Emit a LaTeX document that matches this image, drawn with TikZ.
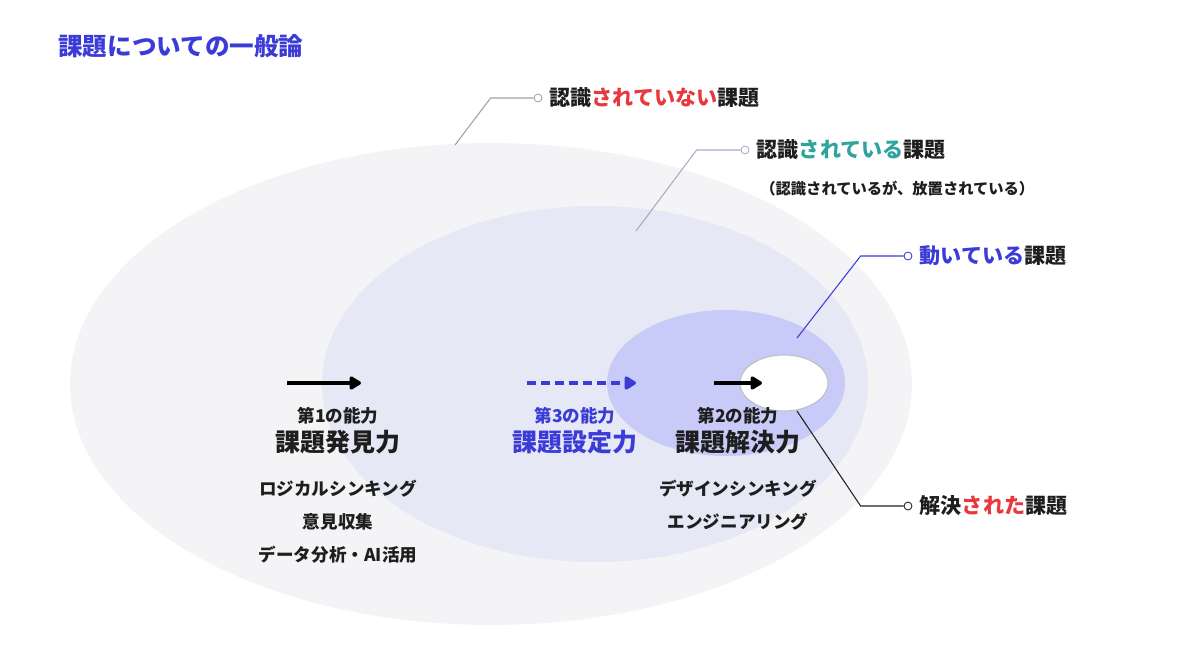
\documentclass[tikz,border=0pt]{standalone}
\usepackage{fontspec}
\setmainfont{Noto Sans CJK JP}
\usetikzlibrary{positioning,arrows.meta,calc}
\definecolor{titleblue}{HTML}{3B3BD8}
\definecolor{alertred}{HTML}{E8383D}
\definecolor{seengreen}{HTML}{2FA39D}
\definecolor{outerbg}{HTML}{F4F4F6}
\definecolor{middlebg}{HTML}{E6E8F5}
\definecolor{innerbg}{HTML}{C8CAF8}
\definecolor{linegray}{HTML}{A0A0A0}
\definecolor{linelav}{HTML}{A6AACB}
\definecolor{textblack}{HTML}{1E1E1E}
\tikzset{
	>={Triangle[length=0.26cm, width=0.3cm, round]}
}

\begin{document}
\begin{tikzpicture}[
x = 0.02cm, y = -0.02cm,
node distance = 0.14cm,
every node/.style = {
	font = \bfseries,
	inner sep = 0pt,
	text height = 0.94em,
	text depth = 0.06em,
	text = textblack
},
label/.style = {
	font = \fontsize{12pt}{14pt}\selectfont\bfseries
},
note/.style = {
	font = \fontsize{8.7pt}{10pt}\selectfont\bfseries
},
rank/.style = {
	font = \fontsize{10pt}{12pt}\selectfont\bfseries
},
power/.style = {
	font = \fontsize{14.2pt}{16pt}\selectfont\bfseries
},
skill/.style = {
	font = \fontsize{10pt}{12pt}\selectfont\bfseries
},
pin/.style = {
	circle, draw, fill = white,
	minimum size = 4.5pt,
	line width = 0.5pt,
	text height = , text depth =
},
leader/.style = {
	line width = 0.6pt
},
flow/.style = {
	->, line width = 2pt
}
]
\useasboundingbox (0,0) rectangle (1200,672);

% zones
\fill[outerbg]  (491,384) ellipse [x radius = 421, y radius = 241];
\fill[middlebg] (595,384) ellipse [x radius = 273, y radius = 178];
\fill[innerbg]  (726,383) ellipse [x radius = 119, y radius = 73];
\draw[fill = white, draw = black!25, line width = 0.6pt] (784,383) ellipse [x radius = 44, y radius = 28];

% title
\node[anchor = west, font = \fontsize{14pt}{16pt}\selectfont\bfseries, text = titleblue] (title) at (58,48) {課題についての一般論};

% ability blocks
\node[power] (find) at (338,444) {課題発見力};
\node[rank, above = 0.22cm of find] (first) {第1の能力};
\node[skill, below = 0.5cm of find] (logic) {ロジカルシンキング};
\node[skill, below = 0.3cm of logic] (opinion) {意見収集};
\node[skill, below = 0.3cm of opinion] (data) {データ分析・AI活用};

\node[power, text = titleblue] (set) at (575,444) {課題設定力};
\node[rank, text = titleblue, above = 0.22cm of set] (third) {第3の能力};

\node[power] (solve) at (738,444) {課題解決力};
\node[rank, above = 0.22cm of solve] (second) {第2の能力};
\node[skill, below = 0.5cm of solve] (design) {デザインシンキング};
\node[skill, below = 0.3cm of design] (eng) {エンジニアリング};

% arrows
\coordinate (a1) at (287,383);
\coordinate (b1) at (361,383);
\coordinate (a3) at (527,383);
\coordinate (b3) at (636,383);
\coordinate (a2) at (714,383);
\coordinate (b2) at (762,383);
\draw[flow] (a1) -- (b1);
\draw[flow, titleblue, dash pattern = on 0.18cm off 0.1cm] (a3) -- (b3);
\draw[flow] (a2) -- (b2);

% leaders
\coordinate (unseen) at (455,145);
\coordinate (seen)   at (636,231);
\coordinate (moving) at (797,338);
\coordinate (solved) at (797,411);

\node[pin, draw = linegray] (pinA) at (538,98) {};
\node[pin, draw = linelav]  (pinB) at (745,150) {};
\node[pin, draw = titleblue] (pinC) at (908,256) {};
\node[pin, draw = textblack] (pinD) at (908,506) {};

\node[label, right = of pinA] (labA) {認識{\color{alertred}されていない}課題};
\node[label, right = of pinB] (labB) {認識{\color{seengreen}されている}課題};
\node[note, anchor = west] (labBnote) at (760,187) {（認識されているが、放置されている）};
\node[label, right = of pinC] (labC) {{\color{titleblue}動いている}課題};
\node[label, right = of pinD] (labD) {解決{\color{alertred}された}課題};

\draw[leader, linegray]  (pinA.west) -- ++(-43,0) -- (unseen);
\draw[leader, linelav]   (pinB.west) -- ++(-44,0) -- (seen);
\draw[leader, titleblue] (pinC.west) -- ++(-43,0) -- (moving);
\draw[leader, textblack] (pinD.west) -- ++(-43,0) -- (solved);
\end{tikzpicture}
\end{document}
